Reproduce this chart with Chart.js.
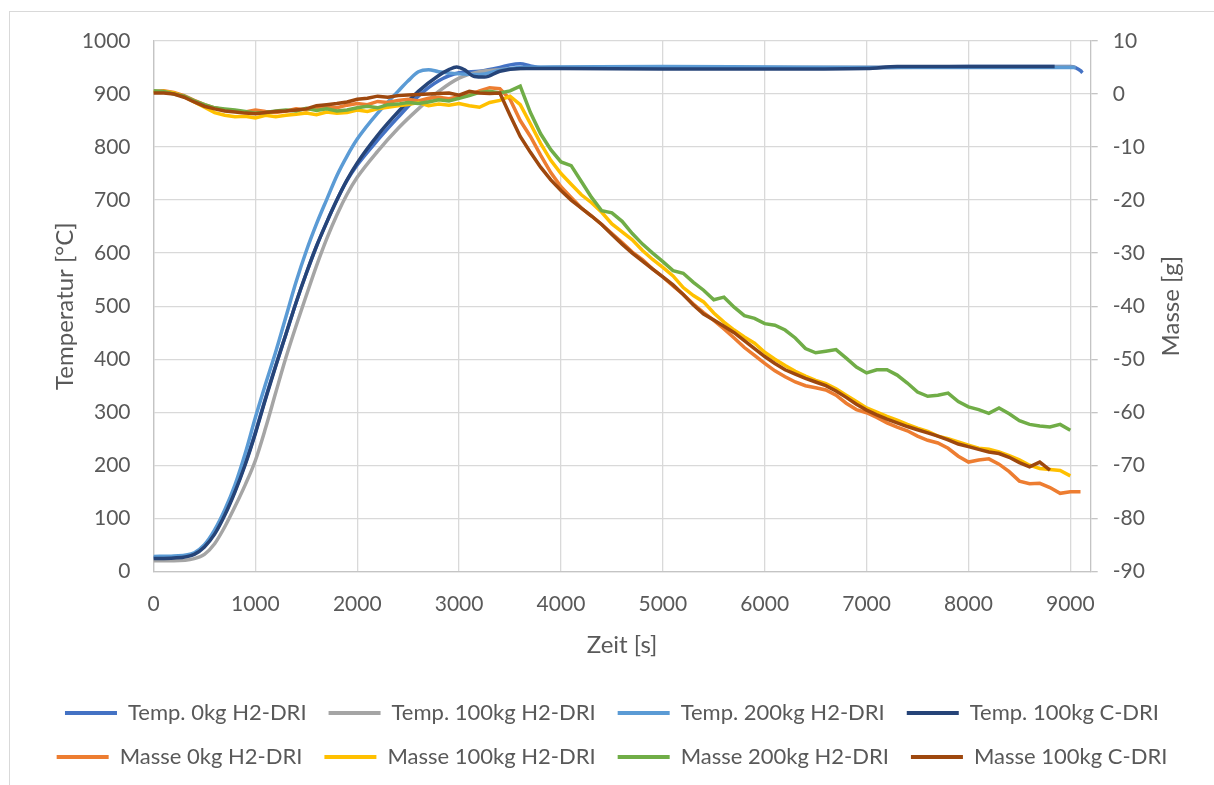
<!DOCTYPE html>
<html>
<head>
<meta charset="utf-8">
<script src="https://cdn.jsdelivr.net/npm/chart.js@4/dist/chart.umd.min.js"></script>
<style>
  html, body { margin: 0; padding: 0; background: #fff; overflow: hidden; }
  #rahmen { position: absolute; left: 9px; top: 11px; width: 1210px; height: 780px; border: 1px solid #d9d9d9; }
  #box { position: relative; width: 1204px; height: 773px; }
</style>
</head>
<body>
<div id="rahmen"><div id="box"><canvas id="zeitChart"></canvas></div></div>
<script>
// Temperaturverlauf (linke Achse)
const zeitTemp0 = [0, 200, 400, 500, 600, 700, 800, 900, 1000, 1100, 1200, 1300, 1400, 1500, 1600, 1700, 1800, 1900, 2000, 2200, 2400, 2600, 2800, 3000, 3200, 3400, 3500, 3600, 3700, 3800, 4000, 5000, 6000, 7000, 8000, 8500, 9000, 9050, 9100, 9120];
const temp0 = [26, 27, 33, 48, 72, 108, 152, 203, 262, 327, 388, 447, 507, 562, 613, 658, 700, 737, 766, 813, 856, 896, 925, 940, 943, 950, 955, 957, 953, 950, 950, 950, 950, 950, 952, 952, 952, 950, 944, 940];

const zeitTemp100 = [0, 200, 400, 500, 600, 700, 800, 900, 1000, 1100, 1200, 1300, 1400, 1500, 1600, 1700, 1800, 1900, 2000, 2200, 2400, 2600, 2800, 3000, 3200, 3400, 3600, 4000, 5000, 6000, 7000, 8000, 9000, 9050];
const temp100 = [20, 20, 24, 32, 52, 84, 122, 163, 209, 270, 337, 403, 463, 520, 576, 627, 672, 711, 743, 792, 835, 872, 905, 930, 942, 946, 948, 950, 950, 950, 950, 951, 951, 950];

const zeitTemp200 = [0, 200, 400, 500, 600, 700, 800, 900, 1000, 1100, 1200, 1300, 1400, 1500, 1600, 1700, 1800, 1900, 2000, 2200, 2400, 2500, 2600, 2700, 2800, 3000, 3200, 3400, 3600, 4000, 5000, 6000, 7000, 8000, 9000, 9050];
const temp200 = [28, 29, 35, 50, 78, 116, 163, 222, 290, 353, 414, 480, 546, 604, 655, 701, 746, 783, 815, 864, 905, 925, 942, 946, 942, 938, 937, 945, 950, 951, 952, 951, 950, 950, 950, 950];

const zeitTempC = [0, 200, 400, 500, 600, 700, 800, 900, 1000, 1100, 1200, 1300, 1400, 1500, 1600, 1700, 1800, 1900, 2000, 2200, 2400, 2600, 2800, 2900, 2975, 3050, 3150, 3250, 3400, 3600, 4000, 5000, 6000, 7000, 7300, 8000, 8846];
const tempC = [24, 25, 32, 46, 70, 106, 150, 201, 260, 325, 387, 447, 507, 562, 613, 658, 700, 738, 770, 822, 866, 905, 935, 946, 951, 946, 933, 932, 943, 948, 948, 947, 947, 948, 952, 952, 952];

// Massenverlauf (rechte Achse), alle 100 s
const zeitMasse = [0, 100, 200, 300, 400, 500, 600, 700, 800, 900, 1000, 1100, 1200, 1300, 1400, 1500, 1600, 1700, 1800, 1900, 2000, 2100, 2200, 2300, 2400, 2500, 2600, 2700, 2800, 2900, 3000, 3100, 3200, 3300, 3400, 3500, 3600, 3700, 3800, 3900, 4000, 4100, 4200, 4300, 4400, 4500, 4600, 4700, 4800, 4900, 5000, 5100, 5200, 5300, 5400, 5500, 5600, 5700, 5800, 5900, 6000, 6100, 6200, 6300, 6400, 6500, 6600, 6700, 6800, 6900, 7000, 7100, 7200, 7300, 7400, 7500, 7600, 7700, 7800, 7900, 8000, 8100, 8200, 8300, 8400, 8500, 8600, 8700, 8800, 8900, 9000, 9100];

const masse0 = [0.5, 0.6, 0.3, -0.3, -1.2, -2.0, -2.6, -3.0, -3.2, -3.4, -3.0, -3.3, -3.5, -3.2, -2.8, -3.0, -2.5, -2.4, -2.6, -2.1, -1.8, -2.0, -1.4, -1.6, -1.2, -1.0, -1.3, -0.8, -0.6, -0.9, -0.5, -0.2, 0.6, 1.2, 1.0, -1.0, -5.0, -8.0, -11.5, -14.8, -17.5, -19.5, -21.5, -23.0, -24.6, -26.3, -28.0, -29.8, -31.2, -33.0, -34.5, -36.2, -37.8, -39.6, -41.2, -42.7, -44.3, -46.0, -47.8, -49.3, -50.8, -52.2, -53.3, -54.3, -55.0, -55.4, -55.8, -56.8, -58.3, -59.5, -60.1, -61.0, -62.0, -62.8, -63.5, -64.5, -65.3, -65.8, -66.8, -68.3, -69.4, -69.0, -68.8, -69.8, -71.2, -73.0, -73.5, -73.4, -74.2, -75.3, -75.0, -75.0];

const masse100 = [0.3, 0.5, 0.2, -0.5, -1.5, -2.5, -3.5, -4.0, -4.3, -4.2, -4.5, -4.0, -4.3, -4.0, -3.8, -3.6, -3.9, -3.4, -3.6, -3.5, -3.0, -3.3, -2.8, -2.5, -2.2, -2.0, -1.6, -2.2, -1.9, -2.1, -1.8, -2.2, -2.5, -1.6, -1.2, -0.4, -2.0, -5.6, -9.3, -12.5, -15.0, -17.0, -19.0, -20.5, -22.3, -24.5, -26.0, -27.5, -29.5, -31.2, -32.7, -34.3, -36.5, -38.0, -39.2, -41.3, -43.0, -44.5, -45.8, -47.0, -48.7, -50.0, -51.2, -52.3, -53.2, -54.0, -54.6, -55.6, -56.8, -58.0, -59.2, -60.0, -60.8, -61.5, -62.3, -63.0, -63.6, -64.5, -65.0, -65.6, -66.2, -66.8, -67.0, -67.5, -68.2, -69.0, -70.0, -70.6, -70.8, -71.0, -72.0];

const masse200 = [0.6, 0.5, 0.0, -0.4, -1.3, -2.0, -2.6, -2.8, -3.0, -3.3, -3.6, -3.5, -3.2, -3.0, -3.2, -2.7, -3.1, -2.8, -3.2, -3.0, -2.6, -2.3, -2.6, -2.0, -1.9, -1.6, -1.8, -1.5, -1.1, -1.3, -0.8, -0.3, 0.3, 0.5, 0.2, 0.6, 1.5, -3.5, -7.5, -10.5, -12.8, -13.5, -16.5, -19.5, -22.0, -22.4, -24.0, -26.3, -28.3, -30.0, -31.6, -33.3, -33.8, -35.5, -37.0, -38.8, -38.3, -40.2, -41.8, -42.3, -43.3, -43.6, -44.5, -46.0, -48.0, -48.8, -48.5, -48.2, -49.8, -51.5, -52.6, -52.0, -52.0, -53.0, -54.5, -56.2, -57.0, -56.8, -56.4, -58.0, -59.0, -59.5, -60.2, -59.2, -60.3, -61.6, -62.3, -62.6, -62.8, -62.3, -63.4];

const masseC = [0.2, 0.2, 0.0, -0.6, -1.5, -2.3, -2.8, -3.2, -3.4, -3.6, -3.7, -3.5, -3.3, -3.2, -3.0, -2.8, -2.2, -2.0, -1.8, -1.5, -1.0, -0.8, -0.4, -0.6, -0.3, -0.2, -0.1, 0.0, 0.1, 0.2, -0.2, 0.5, 0.2, 0.1, 0.2, -4.0, -8.0, -11.0, -13.8, -16.2, -18.2, -20.0, -21.5, -23.0, -24.6, -26.5, -28.3, -30.0, -31.5, -33.0, -34.5, -36.0, -37.8, -39.8, -41.5, -42.6, -43.8, -45.0, -46.5, -48.0, -49.5, -50.8, -52.0, -52.8, -53.6, -54.3, -55.0, -56.0, -57.2, -58.5, -59.6, -60.5, -61.3, -62.0, -62.7, -63.3, -63.9, -64.5, -65.2, -66.0, -66.5, -67.0, -67.5, -67.8, -68.5, -69.5, -70.3, -69.4, -70.9];

// Achsen
const xMax = 9200;
const zeitTicks = [0, 1000, 2000, 3000, 4000, 5000, 6000, 7000, 8000, 9000];
const tempTicks = { min: 0, max: 1000, step: 100 };
const masseTicks = { min: -90, max: 10, step: 10 };

const punkte = (zeit, werte) => werte.map((w, i) => ({ x: zeit[i], y: w }));

const textFarbe = '#595959';
const gitter = '#d9d9d9';
const achse = '#c4c4c4';
const schrift = 'Lato, "Open Sans", sans-serif';

Chart.defaults.font.family = schrift;
Chart.defaults.font.size = 21;
Chart.defaults.color = textFarbe;

function tempLinie(label, zeit, werte, farbe, order) {
  return {
    label, data: punkte(zeit, werte), yAxisID: 'y',
    borderColor: farbe, backgroundColor: farbe,
    borderWidth: 3.5, pointRadius: 0, cubicInterpolationMode: 'monotone', order
  };
}
function masseLinie(label, werte, farbe, order) {
  return {
    label, data: punkte(zeitMasse, werte), yAxisID: 'y2',
    borderColor: farbe, backgroundColor: farbe,
    borderWidth: 3.5, pointRadius: 0, tension: 0, order
  };
}

// feste Breite der y-Achsen, ohne zusaetzlichen Rand oben/unten
function yBreite(breite) {
  return scale => {
    scale.width = breite;
    scale.paddingTop = 0;
    scale.paddingBottom = 0;
  };
}

// rechter Achsentitel wie in Excel von unten nach oben lesbar
const rechterTitel = {
  id: 'rechterTitel',
  afterDraw(chart) {
    const s = chart.scales.y2;
    const ctx = chart.ctx;
    ctx.save();
    ctx.translate(s.right - 43, (s.top + s.bottom) / 2);
    ctx.rotate(-Math.PI / 2);
    ctx.textAlign = 'center';
    ctx.textBaseline = 'middle';
    ctx.font = '24px ' + schrift;
    ctx.fillStyle = textFarbe;
    ctx.fillText('Masse [g]', 0, 0);
    ctx.restore();
  }
};

new Chart(document.getElementById('zeitChart'), {
  type: 'line',
  data: {
    datasets: [
      tempLinie('Temp. 0kg H2-DRI', zeitTemp0, temp0, '#4472C4', 8),
      tempLinie('Temp. 100kg H2-DRI', zeitTemp100, temp100, '#A5A5A5', 7),
      tempLinie('Temp. 200kg H2-DRI', zeitTemp200, temp200, '#5B9BD5', 6),
      tempLinie('Temp. 100kg C-DRI', zeitTempC, tempC, '#264478', 5),
      masseLinie('Masse 0kg H2-DRI', masse0, '#ED7D31', 4),
      masseLinie('Masse 100kg H2-DRI', masse100, '#FFC000', 3),
      masseLinie('Masse 200kg H2-DRI', masse200, '#70AD47', 2),
      masseLinie('Masse 100kg C-DRI', masseC, '#9E480E', 1)
    ]
  },
  options: {
    responsive: true,
    maintainAspectRatio: false,
    animation: false,
    devicePixelRatio: 1,
    layout: { padding: { top: 29, bottom: 7, left: 0, right: 0 } },
    plugins: {
      tooltip: { enabled: false },
      legend: {
        position: 'bottom',
        labels: {
          boxWidth: 52,
          boxHeight: 4,
          padding: 22,
          font: { size: 22 },
          sort: (a, b) => a.datasetIndex - b.datasetIndex,
          generateLabels(chart) {
            return Chart.defaults.plugins.legend.labels.generateLabels(chart)
              .map(l => ({ ...l, lineWidth: 0 }));
          }
        }
      }
    },
    scales: {
      x: {
        type: 'linear',
        min: 0,
        max: xMax,
        afterBuildTicks(scale) { scale.ticks = zeitTicks.map(v => ({ value: v })); },
        afterFit(scale) { scale.height = 108.7; },
        ticks: {
          padding: 20,
          maxRotation: 0,
          autoSkip: false,
          callback: v => String(v)
        },
        grid: { color: gitter, lineWidth: 1.3, drawTicks: false },
        border: { color: achse, width: 1.3 },
        title: { display: true, text: 'Zeit [s]', font: { size: 24 }, padding: { top: 0, bottom: 20 } }
      },
      y: {
        position: 'left',
        min: tempTicks.min,
        max: tempTicks.max,
        afterFit: yBreite(143.5),
        ticks: { stepSize: tempTicks.step, padding: 23, callback: v => String(v) },
        grid: { color: gitter, lineWidth: 1.3, drawTicks: false },
        border: { color: achse, width: 1.3 },
        title: { display: true, text: 'Temperatur [°C]', font: { size: 24 }, padding: { top: 41, bottom: 0 } }
      },
      y2: {
        position: 'right',
        min: masseTicks.min,
        max: masseTicks.max,
        afterFit: yBreite(123.3),
        ticks: { stepSize: masseTicks.step, padding: 15, callback: v => String(v) },
        grid: { drawOnChartArea: false, color: achse, lineWidth: 1.3, tickLength: 7 },
        border: { color: achse, width: 1.3 },
        title: { display: false }
      }
    }
  },
  plugins: [rechterTitel]
});
</script>
</body>
</html>
